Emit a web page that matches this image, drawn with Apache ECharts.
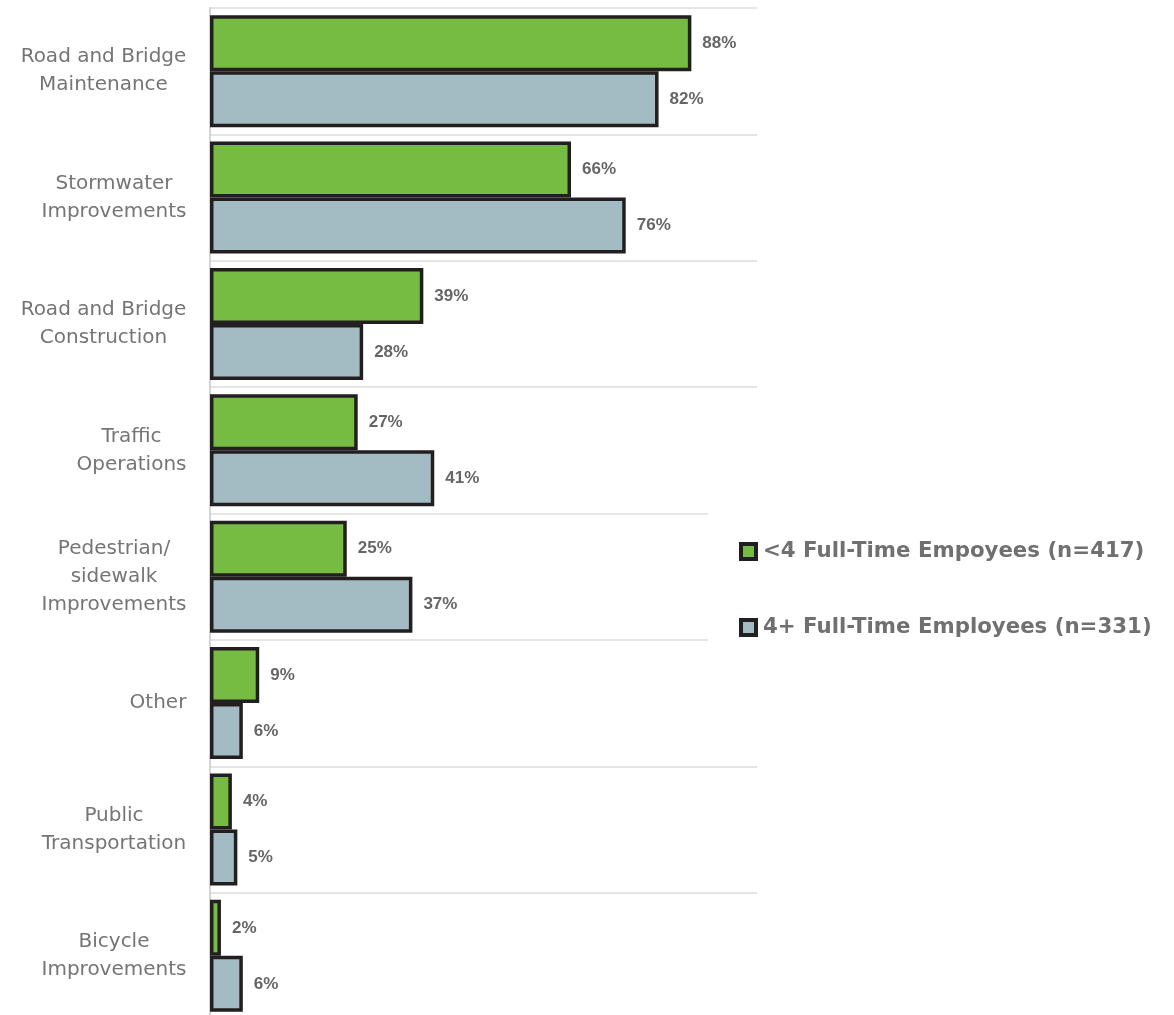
<!DOCTYPE html>
<html>
<head>
<meta charset="utf-8">
<script src="https://cdn.jsdelivr.net/npm/echarts@6/dist/echarts.min.js"></script>
<style>
  html, body { margin: 0; padding: 0; background: #fff; overflow: hidden; }
  #chart { width: 1174px; height: 1020px; }
</style>
</head>
<body>
<div id="chart"></div>
<script>
// Service areas, top to bottom
const categories = [
  'Road and Bridge\nMaintenance',
  'Stormwater\nImprovements',
  'Road and Bridge\nConstruction',
  'Traffic\nOperations',
  'Pedestrian/\nsidewalk\nImprovements',
  'Other',
  'Public\nTransportation',
  'Bicycle\nImprovements'
];

const seriesNames = ['<4 Full-Time Empoyees (n=417)', '4+ Full-Time Employees (n=331)'];

// Share of respondents (%)
const smallOrgs = [88, 66, 39, 27, 25, 9, 4, 2];
const largeOrgs = [82, 76, 28, 41, 37, 6, 5, 6];

const colors = ['#76bb42', '#a3bbc2'];
const edge = '#231f20';

const labelFont = { family: 'DejaVu Sans', size: 20 };

// Each category label is a right-aligned block whose lines are centred on one another;
// give every label its own rich style whose width is that label's widest line.
const measureCtx = document.createElement('canvas').getContext('2d');
measureCtx.font = labelFont.size + 'px "' + labelFont.family + '"';
const labelRich = {};
categories.forEach(function (c, i) {
  const w = Math.max.apply(null, c.split('\n').map(function (l) { return measureCtx.measureText(l).width; }));
  labelRich['c' + i] = { width: Math.ceil(w) + 1, align: 'center' };
});

const chart = echarts.init(document.getElementById('chart'));

function barSeries(name, data, color) {
  return {
    name: name,
    type: 'bar',
    data: data,
    barWidth: 56,
    barGap: '0%',
    itemStyle: { color: color, borderColor: edge, borderWidth: 3.5 },
    label: {
      show: true,
      position: 'right',
      distance: 11,
      formatter: '{c}%',
      fontFamily: 'Liberation Sans',
      fontWeight: 'bold',
      fontSize: 17,
      color: '#666666'
    }
  };
}

chart.setOption({
  animation: false,
  backgroundColor: '#ffffff',
  grid: { left: 210, top: 8, width: 547, height: 1011, containLabel: false },
  xAxis: {
    type: 'value',
    min: 0,
    max: 100,
    show: false
  },
  yAxis: {
    type: 'category',
    data: categories,
    inverse: true,
    axisLine: { show: true, lineStyle: { color: '#d4d4d4', width: 2 } },
    axisTick: { show: false },
    splitLine: { show: true, lineStyle: { color: '#dcdcdc', width: 1.5 } },
    axisLabel: {
      margin: 23,
      fontFamily: labelFont.family,
      fontSize: labelFont.size,
      lineHeight: 28,
      color: '#757575',
      align: 'right',
      formatter: function (value, index) {
        return value.split('\n').map(function (l) { return '{c' + index + '|' + l + '}'; }).join('\n');
      },
      rich: labelRich
    }
  },
  legend: {
    orient: 'vertical',
    left: 708,
    top: 506,
    padding: [35, 20, 12, 31],
    backgroundColor: '#ffffff',
    itemWidth: 15,
    itemHeight: 15,
    itemGap: 55,
    icon: 'rect',
    itemStyle: { borderColor: edge, borderWidth: 4 },
    textStyle: {
      fontFamily: 'DejaVu Sans',
      fontWeight: 'bold',
      fontSize: 21.3,
      color: '#707070',
      padding: [0, 0, 0, 2]
    },
    data: seriesNames
  },
  series: [
    barSeries(seriesNames[0], smallOrgs, colors[0]),
    barSeries(seriesNames[1], largeOrgs, colors[1])
  ]
});
</script>
</body>
</html>
